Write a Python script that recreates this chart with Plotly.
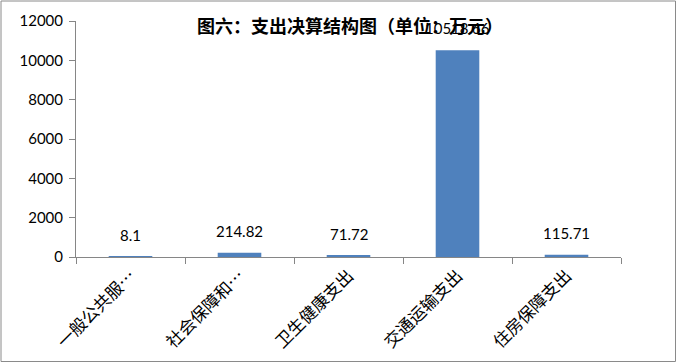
import plotly.graph_objects as go

categories = ["一般公共服…", "社会保障和…", "卫生健康支出", "交通运输支出", "住房保障支出"]
values = [8.1, 214.82, 71.72, 10518.66, 115.71]
value_labels = ["8.1", "214.82", "71.72", "10518.66", "115.71"]
y_ticks = [0, 2000, 4000, 6000, 8000, 10000, 12000]

fig = go.Figure()
fig.add_trace(go.Bar(
    x=categories, y=values, width=0.4,
    marker=dict(color="#4F81BD", line=dict(width=0)),
    hoverinfo="skip",
))

for c, v, t in zip(categories, values, value_labels):
    fig.add_annotation(x=c, y=v, text=t, showarrow=False, yanchor="bottom",
                       yshift=11, font=dict(family="Lato, Carlito, sans-serif", size=15, color="#000000"))

fig.add_annotation(xref="paper", yref="paper", x=(350 - 76) / 545, y=(257 - 25) / 236,
                   text="<b>图六：支出决算结构图（单位：万元）</b>", showarrow=False,
                   xanchor="center", yanchor="middle",
                   font=dict(family="Noto Sans CJK SC", size=18, color="#000000"))

fig.add_shape(type="rect", xref="paper", yref="paper",
              x0=(1 - 76) / 545, x1=(675.5 - 76) / 545,
              y0=(257 - 361.5) / 236, y1=(257 - 1) / 236,
              line=dict(color="#8a8a8a", width=1), fillcolor="rgba(0,0,0,0)", layer="below")

fig.update_layout(
    width=677, height=363,
    margin=dict(l=76, r=56, t=21, b=106),
    paper_bgcolor="white", plot_bgcolor="white",
    showlegend=False,
    bargap=0.6,
)
fig.update_xaxes(
    type="category", tickangle=-45, showline=True, linecolor="#868686", linewidth=1,
    ticks="outside", tickson="boundaries", ticklen=6, tickcolor="#868686",
    tickfont=dict(family="Noto Sans CJK SC", size=17, color="#000000"),
    ticklabelstandoff=1, automargin=False,
    showgrid=False, fixedrange=True,
)
fig.update_yaxes(
    range=[0, 12000], tickvals=y_ticks, ticktext=[str(v) for v in y_ticks],
    showline=True, linecolor="#868686", linewidth=1,
    ticks="outside", ticklen=6, tickcolor="#868686",
    tickfont=dict(family="Lato, Carlito, sans-serif", size=15, color="#000000"),
    ticklabelstandoff=3, automargin=False,
    showgrid=False, zeroline=False, fixedrange=True,
)

fig.write_html("out.html", config={"displayModeBar": False})
